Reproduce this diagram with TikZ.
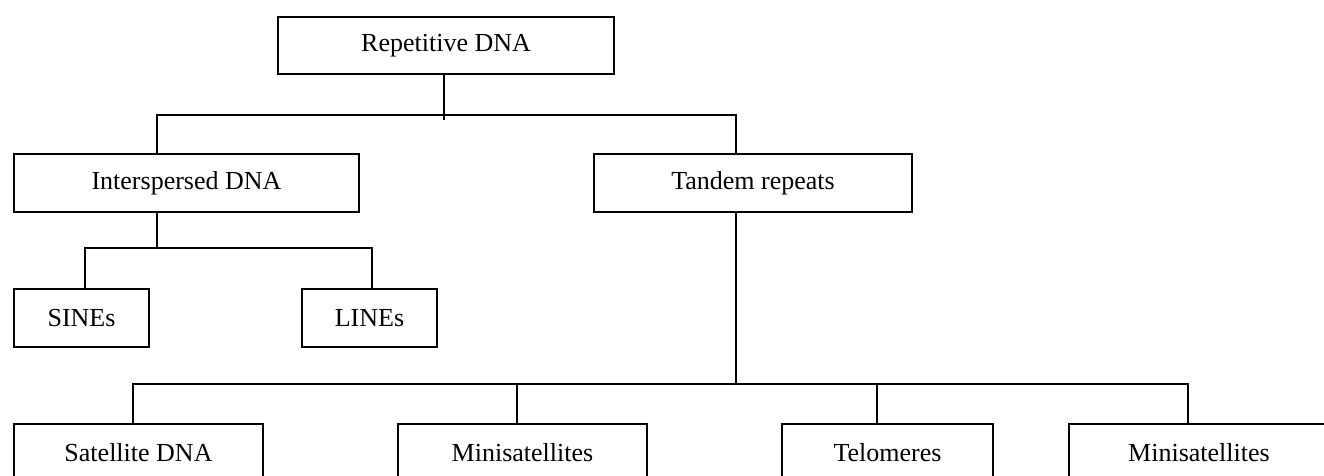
\documentclass[tikz,border=0pt]{standalone}
\usepackage{fontspec}
\setmainfont{Liberation Serif}
\usetikzlibrary{positioning}
\definecolor{ink}{HTML}{000000}
\tikzset{
  treenode/.style={
    rectangle, draw=ink, line width=2pt, fill=white,
    text=ink, font=\fontsize{26}{28}\selectfont, align=center,
    inner sep=0pt, anchor=north west
  },
  treelink/.style={line width=1.6pt, draw=ink}
}

\begin{document}
\begin{tikzpicture}[x=1pt, y=-1pt]
    \useasboundingbox (0,0) rectangle (1324,475);
    \clip (0,0) rectangle (1324,475);

    % top level
    \node[treenode, minimum width=336pt, minimum height=57pt] (rep) at (277,16) {Repetitive DNA};

    % second level
    \node[treenode, minimum width=345pt, minimum height=58pt] (inter) at (13,153) {Interspersed DNA};
    \node[treenode, minimum width=318pt, minimum height=58pt] (tand) at (593,153) {Tandem repeats};

    % interspersed children
    \node[treenode, minimum width=135pt, minimum height=58pt] (sines) at (13,288) {SINEs};
    \node[treenode, minimum width=135pt, minimum height=58pt] (lines) at (301,288) {LINEs};

    % tandem children (cut by the page edge)
    \node[treenode, minimum width=249pt, minimum height=58pt] (sat) at (13,423) {Satellite DNA};
    \node[treenode, minimum width=249pt, minimum height=58pt] (minia) at (397,423) {Minisatellites};
    \node[treenode, minimum width=211pt, minimum height=58pt] (telo) at (781,423) {Telomeres};
    \node[treenode, minimum width=260pt, minimum height=58pt] (minib) at (1068,423) {Minisatellites};

    \coordinate (repjoin) at (444,120);
    \coordinate (tandjoin) at (736,384);

    \draw[treelink] (rep.south -| repjoin) -- (repjoin);
    \draw[treelink] (inter.north -| 157,0) |- (736,115) -- (tand.north -| 736,0);

    \draw[treelink] (inter.south -| 157,0) -- (157,248);
    \draw[treelink] (sines.north -| 85,0) |- (372,248) -- (lines.north -| 372,0);

    \draw[treelink] (tand.south -| tandjoin) -- (tandjoin);
    \draw[treelink] (sat.north -| 133,0) |- (1188,384) -- (minib.north -| 1188,0);
    \draw[treelink] (minia.north -| 517,0) -- (517,384);
    \draw[treelink] (telo.north -| 877,0) -- (877,384);
  \end{tikzpicture}
\end{document}
